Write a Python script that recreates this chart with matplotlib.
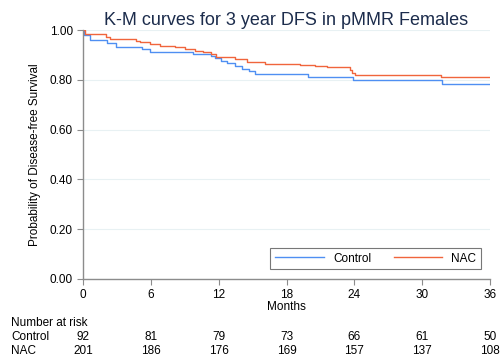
import numpy as np
import matplotlib
matplotlib.use("Agg")
from matplotlib import pyplot as plt
from matplotlib.transforms import blended_transform_factory

plt.rcParams['font.family'] = ['Liberation Sans', 'DejaVu Sans']

# Kaplan-Meier step estimates
ctrl_t = [0, 0.1, 0.6, 2.1, 2.9, 5.2, 5.9, 9.7, 11.3, 11.7, 12.2, 12.7, 13.4, 14.1, 14.7, 15.2, 19.9, 23.9, 31.8, 36]
ctrl_s = [1.0, 0.98, 0.96, 0.949, 0.933, 0.923, 0.911, 0.903, 0.895, 0.889, 0.877, 0.866, 0.855, 0.845, 0.835, 0.823, 0.811, 0.799, 0.785, 0.785]
nac_t = [0, 0.15, 2.0, 2.35, 4.7, 5.0, 5.9, 6.8, 8.1, 9.0, 9.9, 10.6, 11.3, 11.8, 13.4, 14.5, 16.1, 19.2, 20.5, 21.6, 23.6, 23.8, 24.1, 31.7, 36]
nac_s = [1.0, 0.984, 0.973, 0.965, 0.957, 0.951, 0.944, 0.938, 0.931, 0.925, 0.918, 0.911, 0.905, 0.893, 0.884, 0.872, 0.865, 0.86, 0.855, 0.851, 0.84, 0.829, 0.819, 0.813, 0.813]

risk_times = [0, 6, 12, 18, 24, 30, 36]
risk_ctrl = [92, 81, 79, 73, 66, 61, 50]
risk_nac = [201, 186, 176, 169, 157, 137, 108]

blue = '#4f8ff2'
orange = '#f0653c'

fig = plt.figure(figsize=(5.04, 3.59), dpi=100)
ax = fig.add_axes([0.165, 0.223, 0.807, 0.693])

ax.step(ctrl_t, ctrl_s, where='post', color=blue, lw=1.0, label='Control')
ax.step(nac_t, nac_s, where='post', color=orange, lw=1.0, label='NAC')

ax.set_xlim(0, 36)
ax.set_ylim(0, 1)
ax.set_xticks(risk_times)
ax.set_yticks(np.arange(0, 1.01, 0.2))
ax.set_yticklabels(['%.2f' % v for v in np.arange(0, 1.01, 0.2)])
ax.grid(axis='y', color='#e8f1f3', lw=0.8)
ax.set_axisbelow(True)
for s in ['top', 'right']:
    ax.spines[s].set_visible(False)
for s in ['left', 'bottom']:
    ax.spines[s].set_color('#8c8c8c')
    ax.spines[s].set_linewidth(1.0)
ax.tick_params(colors='#8c8c8c', labelcolor='black', labelsize=8.5, length=4, width=0.8)
ax.set_xlabel('Months', fontsize=8.5, labelpad=0)
ax.set_ylabel('Probability of Disease-free Survival', fontsize=8.5, labelpad=6)
ax.set_title('K-M curves for 3 year DFS in pMMR Females', fontsize=13, color='#1c2c4c', pad=4)

leg = ax.legend(loc='lower right', ncol=2, fontsize=8.5, frameon=True, fancybox=False,
                edgecolor='#555555', handlelength=4.1, columnspacing=1.9,
                borderaxespad=0.4, bbox_to_anchor=(0.99, 0.02))
leg.get_frame().set_linewidth(0.8)

tr = blended_transform_factory(ax.transData, fig.transFigure)
fig.text(0.022, 0.099, 'Number at risk', fontsize=8.5, va='center')
fig.text(0.022, 0.06, 'Control', fontsize=8.5, va='center')
fig.text(0.022, 0.022, 'NAC', fontsize=8.5, va='center')
for t, c, n in zip(risk_times, risk_ctrl, risk_nac):
    ax.text(t, 0.06, str(c), transform=tr, ha='center', va='center', fontsize=8.5)
    ax.text(t, 0.022, str(n), transform=tr, ha='center', va='center', fontsize=8.5)

fig.savefig('out.png', dpi=100)
